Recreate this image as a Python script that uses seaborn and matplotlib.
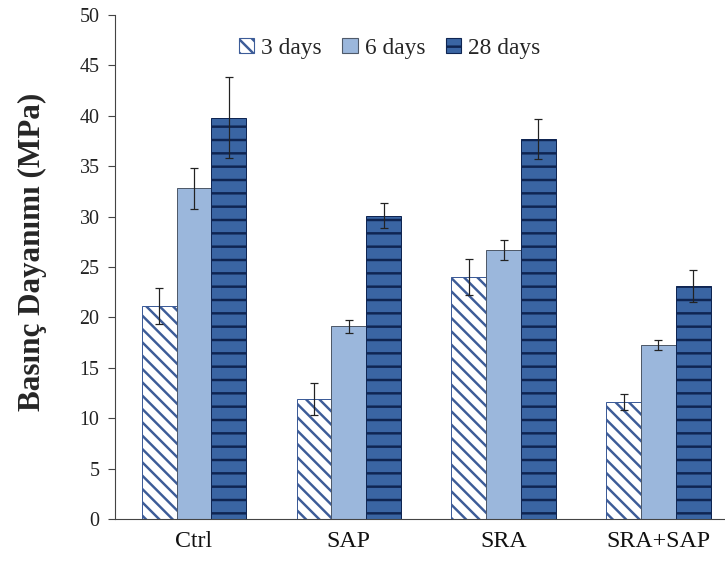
import matplotlib
matplotlib.use("Agg")
import matplotlib.pyplot as plt
import seaborn as sns
import pandas as pd
import numpy as np
from matplotlib.patches import Patch

categories = ["Ctrl", "SAP", "SRA", "SRA+SAP"]
series = ["3 days", "6 days", "28 days"]
values_3d = [21.1, 11.9, 24.0, 11.6]
values_6d = [32.8, 19.1, 26.7, 17.3]
values_28d = [39.8, 30.1, 37.7, 23.1]
err_3d = [1.8, 1.6, 1.8, 0.8]
err_6d = [2.0, 0.6, 1.0, 0.5]
err_28d = [4.0, 1.2, 2.0, 1.6]
yticks = [0, 5, 10, 15, 20, 25, 30, 35, 40, 45, 50]

rows = []
for s, vals, errs in zip(series, [values_3d, values_6d, values_28d], [err_3d, err_6d, err_28d]):
    for c, v, e in zip(categories, vals, errs):
        rows.append({"cat": c, "series": s, "val": v, "err": e})
df = pd.DataFrame(rows)

sns.set_style("white")
plt.rcParams["font.family"] = ["Liberation Serif", "DejaVu Serif"]
plt.rcParams["hatch.linewidth"] = 2.2

DPI = 80
fig = plt.figure(figsize=(725 / DPI, 562 / DPI), dpi=DPI)
ax = fig.add_axes([115 / 725, 43 / 562, 1 - 115 / 725, (519 - 15) / 562])

fills = {"3 days": "white", "6 days": "#9bb7dc", "28 days": "#3a65a3"}
edges = {"3 days": "#3d5c98", "6 days": "#4f5a6a", "28 days": "#0f2552"}
hatches = {"3 days": "\\\\", "6 days": "", "28 days": "-"}

sns.barplot(data=df, x="cat", y="val", hue="series", hue_order=series,
            order=categories, palette=fills, errorbar=None, width=0.675,
            saturation=1, legend=False, ax=ax)

bars = [p for p in ax.patches]
for i, s in enumerate(series):
    sub = df[df.series == s].set_index("cat").loc[categories]
    for j, c in enumerate(categories):
        p = bars[i * len(categories) + j]
        p.set_facecolor(fills[s])
        p.set_edgecolor(edges[s])
        p.set_linewidth(0.9)
        p.set_hatch(hatches[s])
        xc = p.get_x() + p.get_width() / 2
        ax.errorbar(xc, sub.loc[c, "val"], yerr=sub.loc[c, "err"], fmt="none",
                    ecolor="#222222", elinewidth=1.1, capsize=3.5, capthick=1.1, zorder=5)

ax.set_ylim(0, 50)
ax.set_xlim(-0.51, 3.43)
ax.set_yticks(yticks)
ax.set_yticklabels([str(t) for t in yticks], fontsize=18, color="#222222")
ax.set_xticks([-0.5, 0.5, 1.5, 2.5])
ax.set_xticklabels([])
ax.set_xticks(range(len(categories)), minor=True)
ax.set_xticklabels(categories, minor=True, fontsize=21.5, color="#111111")
ax.tick_params(axis="x", which="major", direction="out", length=8, width=1, color="#444444")
ax.tick_params(axis="x", which="minor", length=0, pad=11)
ax.tick_params(axis="y", direction="out", length=6, width=1, color="#444444", pad=8, left=True)
ax.set_xlabel("")
ax.set_ylabel("Basınç Dayanımı (MPa)", fontsize=28, fontweight="bold")
ax.yaxis.label.set_va("center")
ax.yaxis.set_label_coords((32 - 115) / 610, (519 - 252) / 504)

for sp in ["top", "right"]:
    ax.spines[sp].set_visible(False)
for sp in ["left", "bottom"]:
    ax.spines[sp].set_color("#444444")
    ax.spines[sp].set_linewidth(1)

handles = [Patch(facecolor=fills[s], edgecolor=edges[s], hatch=hatches[s], linewidth=1) for s in series]
ax.legend(handles, series, loc="center", bbox_to_anchor=(0.45, 0.934), ncol=3, frameon=False,
          fontsize=21, handlelength=0.65, handleheight=0.65, handletextpad=0.3, columnspacing=0.9)

fig.savefig("out.png", dpi=DPI)
